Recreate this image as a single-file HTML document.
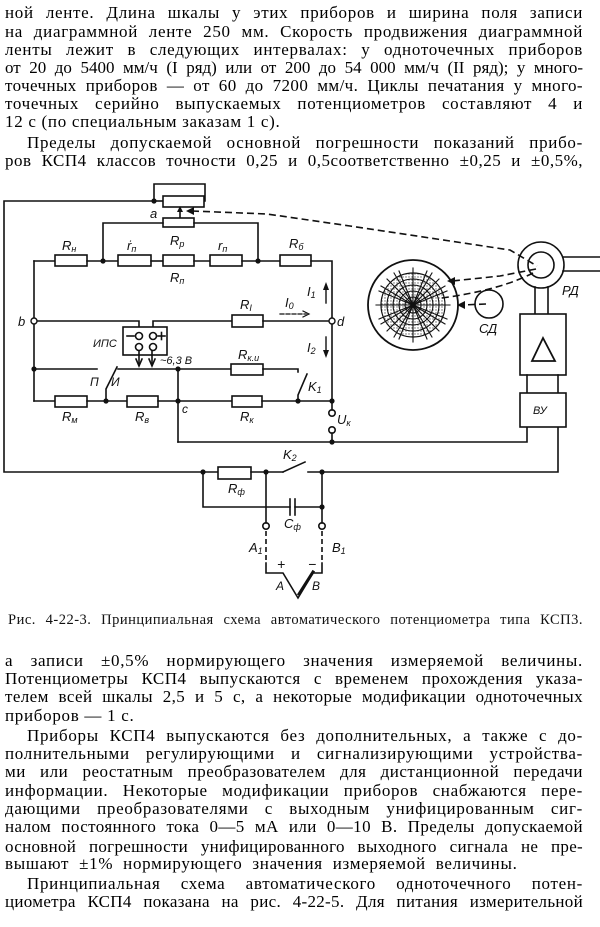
<!DOCTYPE html>
<html><head><meta charset="utf-8">
<style>
html,body{margin:0;padding:0;background:#fff;}
#pg{position:relative;width:600px;height:927px;overflow:hidden;background:#fff;}
.l{position:absolute;left:5px;width:578px;height:20px;line-height:20px;font-family:"Liberation Serif","DejaVu Serif",serif;font-size:17px;color:#000;text-align:justify;text-align-last:justify;white-space:normal;letter-spacing:0.7px;}
.n{text-align-last:left;}
.cap{position:absolute;left:8px;width:575px;height:18px;line-height:18px;font-family:"Liberation Serif",serif;font-size:14.5px;color:#111;text-align:justify;text-align-last:justify;letter-spacing:0.5px;}
svg{position:absolute;left:0;top:0;}
svg text{font-family:"Liberation Sans","DejaVu Sans",sans-serif;font-style:italic;fill:#111;stroke:none;}
</style></head><body><div id="pg">
<div class="l" style="top:3px">ной ленте. Длина шкалы у этих приборов и ширина поля записи</div>
<div class="l" style="top:22px">на диаграммной ленте 250 мм. Скорость продвижения диаграммной</div>
<div class="l" style="top:40px">ленты лежит в следующих интервалах: у одноточечных приборов</div>
<div class="l" style="top:58px;letter-spacing:0px">от 20 до 5400 мм/ч (I ряд) или от 200 до 54 000 мм/ч (II ряд); у много-</div>
<div class="l" style="top:76px;letter-spacing:0.4px">точечных приборов — от 60 до 7200 мм/ч. Циклы печатания у много-</div>
<div class="l" style="top:94px">точечных серийно выпускаемых потенциометров составляют 4 и</div>
<div class="l n" style="top:112px">12 с (по специальным заказам 1 с).</div>
<div class="l" style="top:133px;left:27px;width:556px">Пределы допускаемой основной погрешности показаний прибо-</div>
<div class="l" style="top:151px;letter-spacing:0.5px">ров КСП4 классов точности 0,25 и 0,5соответственно ±0,25 и ±0,5%,</div>

<svg width="600" height="927" viewBox="0 0 600 927">
<defs>
<pattern id="dots" width="3" height="3" patternUnits="userSpaceOnUse"><rect width="3" height="3" fill="#fff"/><circle cx="1" cy="1" r="0.7" fill="#666"/></pattern>
</defs>
<g stroke="#111" stroke-width="1.6" fill="none" stroke-linecap="square">
<polyline points="154,201 4,201 4,472 203,472"/>
<polyline points="154,201 154,184 205,184 205,201 204,201"/>
<line x1="154" y1="201" x2="163" y2="201"/>
<rect x="163" y="196" width="41" height="11" fill="#fff"/>
<line x1="180" y1="218" x2="180" y2="211"/>
<rect x="163" y="218" width="31" height="9" fill="#fff"/>
<polyline points="163,223 103,223 103,261"/>
<polyline points="194,223 258,223 258,261"/>
<line x1="34" y1="261" x2="55" y2="261"/>
<rect x="55" y="255" width="32" height="11" fill="#fff"/>
<line x1="87" y1="261" x2="118" y2="261"/>
<rect x="118" y="255" width="33" height="11" fill="#fff"/>
<line x1="151" y1="261" x2="163" y2="261"/>
<rect x="163" y="255" width="31" height="11" fill="#fff"/>
<line x1="194" y1="261" x2="210" y2="261"/>
<rect x="210" y="255" width="32" height="11" fill="#fff"/>
<line x1="242" y1="261" x2="280" y2="261"/>
<rect x="280" y="255" width="31" height="11" fill="#fff"/>
<polyline points="311,261 332,261 332,318"/>
<line x1="332" y1="324" x2="332" y2="401"/>
<line x1="34" y1="261" x2="34" y2="318"/>
<line x1="34" y1="324" x2="34" y2="401"/>
<polyline points="37,321 139,321 139,333"/>
<polyline points="153,333 153,321 232,321"/>
<rect x="232" y="315" width="31" height="12" fill="#fff"/>
<line x1="263" y1="321" x2="329" y2="321"/>
<rect x="123" y="327" width="44" height="28" fill="#fff"/>
<circle cx="139" cy="336" r="3.5"/><circle cx="153" cy="336" r="3.5"/>
<circle cx="139" cy="347" r="3.5"/><circle cx="153" cy="347" r="3.5"/>
<line x1="127" y1="336" x2="134" y2="336"/>
<line x1="158" y1="336" x2="165" y2="336"/><line x1="161.5" y1="332.5" x2="161.5" y2="339.5"/>
<line x1="139" y1="351" x2="139" y2="365"/><polyline points="136,359 139,366 142,359"/>
<line x1="152" y1="351" x2="152" y2="365"/><polyline points="149,359 152,366 155,359"/>
<line x1="34" y1="369" x2="97" y2="369"/>
<polyline points="106,401 106,389 117,367"/>
<line x1="118" y1="369" x2="231" y2="369"/>
<rect x="231" y="364" width="32" height="11" fill="#fff"/>
<polyline points="263,369 298,369 298,372"/>
<polyline points="298,401 298,395 307,374"/>
<line x1="34" y1="401" x2="55" y2="401"/>
<rect x="55" y="396" width="32" height="11" fill="#fff"/>
<line x1="87" y1="401" x2="127" y2="401"/>
<rect x="127" y="396" width="31" height="11" fill="#fff"/>
<line x1="158" y1="401" x2="232" y2="401"/>
<rect x="232" y="396" width="30" height="11" fill="#fff"/>
<line x1="262" y1="401" x2="332" y2="401"/>
<line x1="178" y1="369" x2="178" y2="442"/>
<line x1="332" y1="401" x2="332" y2="410"/>
<circle cx="332" cy="413" r="3.2"/>
<circle cx="332" cy="430" r="3.2"/>
<line x1="332" y1="433" x2="332" y2="442"/>
<polyline points="178,442 527,442 527,427"/>
<line x1="203" y1="472" x2="218" y2="472"/>
<rect x="218" y="467" width="33" height="12" fill="#fff"/>
<line x1="251" y1="472" x2="283" y2="472"/>
<line x1="283" y1="472" x2="305" y2="462"/>
<polyline points="308,472 558,472 558,427"/>
<polyline points="203,472 203,507 290,507"/>
<line x1="290" y1="499" x2="290" y2="515"/><line x1="295" y1="499" x2="295" y2="515"/>
<line x1="295" y1="507" x2="322" y2="507"/>
<line x1="266" y1="472" x2="266" y2="523"/>
<line x1="322" y1="472" x2="322" y2="523"/>
<circle cx="266" cy="526" r="3.2"/><circle cx="322" cy="526" r="3.2"/>
<line x1="266" y1="531" x2="266" y2="563" stroke-dasharray="5,3" stroke-linecap="butt"/>
<line x1="322" y1="531" x2="322" y2="563" stroke-dasharray="5,3" stroke-linecap="butt"/>
<polyline points="266,563 266,573 283,573 298,598 313,573 322,573 322,563"/>
<line x1="299" y1="594" x2="313" y2="572" stroke-width="3"/>
<circle cx="541" cy="265" r="23"/>
<circle cx="541" cy="265" r="13"/>
<line x1="563" y1="257" x2="600" y2="257"/>
<line x1="563" y1="271" x2="600" y2="271"/>
<line x1="535" y1="287" x2="535" y2="314"/>
<line x1="548" y1="287" x2="548" y2="314"/>
<rect x="520" y="314" width="46" height="61" fill="#fff"/>
<polygon points="543,338 532,361 555,361" stroke-width="1.8"/>
<line x1="527" y1="375" x2="527" y2="393"/>
<line x1="558" y1="375" x2="558" y2="393"/>
<rect x="520" y="393" width="46" height="34" fill="#fff"/>
<circle cx="413" cy="305" r="45" stroke-width="1.8"/>
<circle cx="413" cy="305" r="32" fill="url(#dots)" stroke-width="1.2"/>
<g stroke-width="1.1">
<circle cx="413" cy="305" r="26"/><circle cx="413" cy="305" r="20"/>
<circle cx="413" cy="305" r="14"/><circle cx="413" cy="305" r="8"/>
<line x1="413" y1="268" x2="413" y2="342"/><line x1="376" y1="305" x2="450" y2="305"/>
<line x1="387" y1="279" x2="439" y2="331"/><line x1="439" y1="279" x2="387" y2="331"/>
<line x1="399" y1="271" x2="427" y2="339"/><line x1="427" y1="271" x2="399" y2="339"/>
<line x1="379" y1="291" x2="447" y2="319"/><line x1="447" y1="291" x2="379" y2="319"/>
<line x1="394" y1="273" x2="432" y2="337"/><line x1="432" y1="273" x2="394" y2="337"/>
<line x1="381" y1="286" x2="445" y2="324"/><line x1="445" y1="286" x2="381" y2="324"/>
</g>
<circle cx="489" cy="304" r="14"/>
<g stroke-dasharray="7,4" stroke-width="1.6" stroke-linecap="butt">
<polyline points="192,211 267,214 350,226 510,250 537,266"/>
<polyline points="536,269 500,276 452,281"/>
<path d="M533,273 Q500,290 442,298"/>
<line x1="486" y1="304" x2="462" y2="305"/>
</g>
<line x1="280" y1="314" x2="306" y2="314" stroke-dasharray="4,2" stroke-width="1.2"/>
<polyline points="303,311 309,314 303,317" stroke-width="1.2"/>
<line x1="326" y1="303" x2="326" y2="286" stroke-width="1.4"/>
<line x1="326" y1="337" x2="326" y2="354" stroke-width="1.4"/>
</g>
<g fill="#111" stroke="none">
<polygon points="180,206 177,212 183,212"/>
<polygon points="186,211 194,207 194,215"/>
<polygon points="447,281 455,277 455,285"/>
<polygon points="457,305 465,301 465,309"/>
<polygon points="326,282 323,290 329,290"/>
<polygon points="326,358 323,350 329,350"/>
<circle cx="154" cy="201" r="2.6"/>
<circle cx="103" cy="261" r="2.6"/><circle cx="258" cy="261" r="2.6"/>
<circle cx="34" cy="369" r="2.6"/><circle cx="178" cy="369" r="2.6"/>
<circle cx="106" cy="401" r="2.6"/><circle cx="178" cy="401" r="2.6"/>
<circle cx="298" cy="401" r="2.6"/><circle cx="332" cy="401" r="2.6"/>
<circle cx="332" cy="442" r="2.6"/>
<circle cx="203" cy="472" r="2.6"/><circle cx="266" cy="472" r="2.6"/>
<circle cx="322" cy="472" r="2.6"/><circle cx="322" cy="507" r="2.6"/>
</g>
<g fill="#fff" stroke="#111" stroke-width="1.4">
<circle cx="34" cy="321" r="3"/><circle cx="332" cy="321" r="3"/>
</g>
<g font-size="13">
<text x="150" y="218">a</text>
<text x="62" y="250">R<tspan font-size="9" dy="2">н</tspan></text>
<text x="127" y="250">ṙ<tspan font-size="9" dy="2">п</tspan></text>
<text x="170" y="245">R<tspan font-size="9" dy="2">p</tspan></text>
<text x="218" y="250">r<tspan font-size="9" dy="2">п</tspan></text>
<text x="289" y="248">R<tspan font-size="9" dy="2">б</tspan></text>
<text x="170" y="282">R<tspan font-size="9" dy="2">п</tspan></text>
<text x="240" y="309">R<tspan font-size="9" dy="2">I</tspan></text>
<text x="285" y="307">I<tspan font-size="9" dy="2">0</tspan></text>
<text x="307" y="296">I<tspan font-size="9" dy="2">1</tspan></text>
<text x="307" y="352">I<tspan font-size="9" dy="2">2</tspan></text>
<text x="18" y="326">b</text>
<text x="337" y="326">d</text>
<text x="93" y="347" font-size="11">ИПС</text>
<text x="160" y="364" font-size="11">~6,3 В</text>
<text x="238" y="359">R<tspan font-size="9" dy="2">к.u</tspan></text>
<text x="90" y="386" font-size="12">П</text>
<text x="111" y="386" font-size="12">И</text>
<text x="308" y="391">K<tspan font-size="9" dy="2">1</tspan></text>
<text x="62" y="421">R<tspan font-size="9" dy="2">м</tspan></text>
<text x="135" y="421">R<tspan font-size="9" dy="2">в</tspan></text>
<text x="182" y="413" font-size="12">c</text>
<text x="240" y="421">R<tspan font-size="9" dy="2">к</tspan></text>
<text x="337" y="424">U<tspan font-size="9" dy="2">к</tspan></text>
<text x="283" y="459">K<tspan font-size="9" dy="2">2</tspan></text>
<text x="228" y="493">R<tspan font-size="9" dy="2">ф</tspan></text>
<text x="284" y="528">C<tspan font-size="9" dy="2">ф</tspan></text>
<text x="249" y="552">A<tspan font-size="9" dy="2">1</tspan></text>
<text x="332" y="552">B<tspan font-size="9" dy="2">1</tspan></text>
<text x="277" y="569" font-size="14" font-style="normal">+</text>
<text x="308" y="569" font-size="14" font-style="normal">−</text>
<text x="276" y="590" font-size="12">A</text>
<text x="312" y="590" font-size="12">B</text>
<text x="562" y="295">РД</text>
<text x="479" y="333">СД</text>
<text x="533" y="414" font-size="11">ВУ</text>
</g>
</svg>

<div class="cap" style="top:611px">Рис. 4-22-3. Принципиальная схема автоматического потенциометра типа КСП3.</div>

<div class="l" style="top:651px">а записи ±0,5% нормирующего значения измеряемой величины.</div>
<div class="l" style="top:669px;letter-spacing:0.5px">Потенциометры КСП4 выпускаются с временем прохождения указа-</div>
<div class="l" style="top:687px;letter-spacing:0.4px">телем всей шкалы 2,5 и 5 с, а некоторые модификации одноточечных</div>
<div class="l n" style="top:706px">приборов — 1 с.</div>
<div class="l" style="top:726px;left:27px;width:556px">Приборы КСП4 выпускаются без дополнительных, а также с до-</div>
<div class="l" style="top:744px">полнительными регулирующими и сигнализирующими устройства-</div>
<div class="l" style="top:762px;letter-spacing:0.5px">ми или реостатным преобразователем для дистанционной передачи</div>
<div class="l" style="top:781px">информации. Некоторые модификации приборов снабжаются пере-</div>
<div class="l" style="top:799px">дающими преобразователями с выходным унифицированным сиг-</div>
<div class="l" style="top:817px;letter-spacing:0.4px">налом постоянного тока 0—5 мА или 0—10 В. Пределы допускаемой</div>
<div class="l" style="top:837px;letter-spacing:0.3px">основной погрешности унифицированного выходного сигнала не пре-</div>
<div class="l n" style="top:854px;word-spacing:5px">вышают ±1% нормирующего значения измеряемой величины.</div>
<div class="l" style="top:874px;left:27px;width:556px">Принципиальная схема автоматического одноточечного потен-</div>
<div class="l" style="top:892px;letter-spacing:0.3px">циометра КСП4 показана на рис. 4-22-5. Для питания измерительной</div>
</div></body></html>
